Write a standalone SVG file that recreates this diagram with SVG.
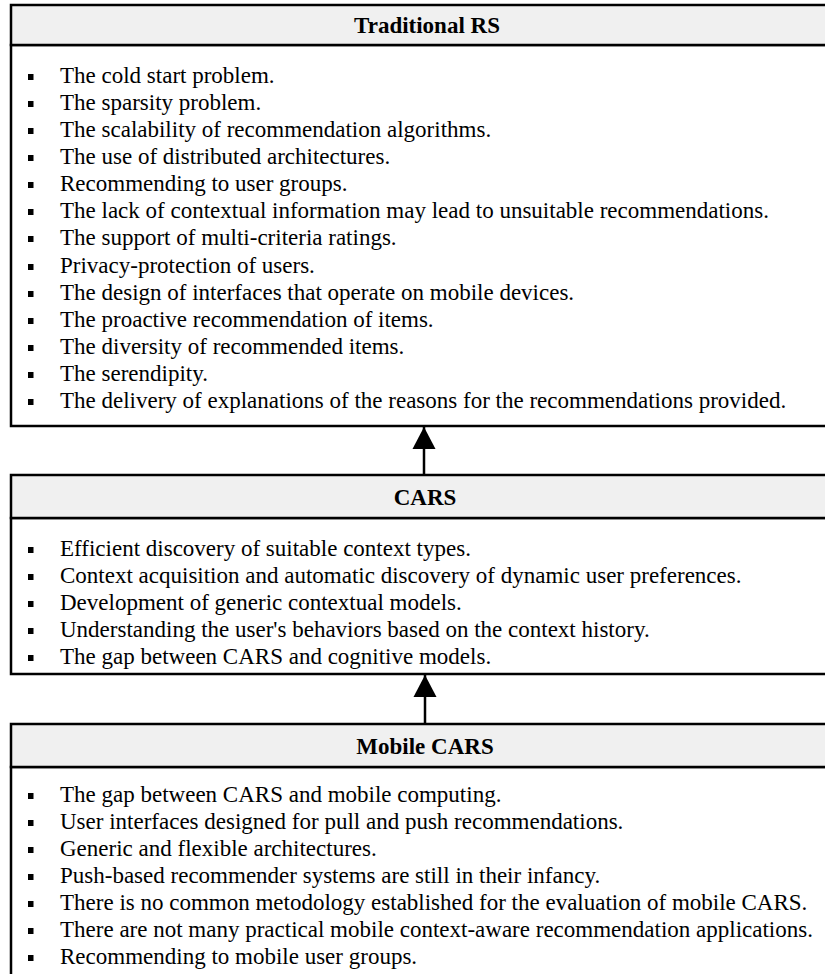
<svg xmlns="http://www.w3.org/2000/svg" xmlns:xlink="http://www.w3.org/1999/xlink" width="825" height="974" viewBox="0 0 825 974">
  <style>
    .frame { fill: #ffffff; stroke: #000000; stroke-width: 2.5; }
    .head { fill: #f0f0f0; stroke: #000000; stroke-width: 2.5; }
    .title { font-family: "Liberation Serif", "Times New Roman", serif; font-size: 23px; font-weight: bold; fill: #000000; text-anchor: middle; }
    .item { font-family: "Liberation Serif", "Times New Roman", serif; font-size: 23px; fill: #000000; }
    .link { stroke: #000000; stroke-width: 2.5; fill: none; }
  </style>
  <defs>
    <rect id="dot" x="0" y="0" width="5.5" height="6" fill="#000000"/>
    <marker id="head" markerUnits="userSpaceOnUse" markerWidth="24" markerHeight="24" refX="22" refY="12" orient="auto">
      <path d="M0,0.5 L22,12 L0,23.5 Z" fill="#000000"/>
    </marker>
  </defs>

  <!-- Traditional RS -->
  <g id="traditional-rs">
    <rect class="frame" x="11" y="45" width="900" height="381"/>
    <rect class="head" x="11" y="5" width="900" height="40"/>
    <text class="title" x="427" y="33">Traditional RS</text>
    <g>
      <use xlink:href="#dot" x="28" y="74"/>
      <use xlink:href="#dot" x="28" y="101"/>
      <use xlink:href="#dot" x="28" y="128"/>
      <use xlink:href="#dot" x="28" y="155"/>
      <use xlink:href="#dot" x="28" y="182"/>
      <use xlink:href="#dot" x="28" y="209"/>
      <use xlink:href="#dot" x="28" y="236"/>
      <use xlink:href="#dot" x="28" y="264"/>
      <use xlink:href="#dot" x="28" y="291"/>
      <use xlink:href="#dot" x="28" y="318"/>
      <use xlink:href="#dot" x="28" y="345"/>
      <use xlink:href="#dot" x="28" y="372"/>
      <use xlink:href="#dot" x="28" y="399"/>
    </g>
    <text class="item" x="60" y="83">The cold start problem.</text>
    <text class="item" x="60" y="110">The sparsity problem.</text>
    <text class="item" x="60" y="137">The scalability of recommendation algorithms.</text>
    <text class="item" x="60" y="164">The use of distributed architectures.</text>
    <text class="item" x="60" y="191">Recommending to user groups.</text>
    <text class="item" x="60" y="218">The lack of contextual information may lead to unsuitable recommendations.</text>
    <text class="item" x="60" y="245">The support of multi-criteria ratings.</text>
    <text class="item" x="60" y="273">Privacy-protection of users.</text>
    <text class="item" x="60" y="300">The design of interfaces that operate on mobile devices.</text>
    <text class="item" x="60" y="327">The proactive recommendation of items.</text>
    <text class="item" x="60" y="354">The diversity of recommended items.</text>
    <text class="item" x="60" y="381">The serendipity.</text>
    <text class="item" x="60" y="408">The delivery of explanations of the reasons for the recommendations provided.</text>
  </g>

  <!-- CARS -->
  <g id="cars">
    <rect class="frame" x="11" y="518" width="900" height="156"/>
    <rect class="head" x="11" y="475" width="900" height="43"/>
    <text class="title" x="425" y="505">CARS</text>
    <g>
      <use xlink:href="#dot" x="28" y="547"/>
      <use xlink:href="#dot" x="28" y="574"/>
      <use xlink:href="#dot" x="28" y="601"/>
      <use xlink:href="#dot" x="28" y="628"/>
      <use xlink:href="#dot" x="28" y="655"/>
    </g>
    <text class="item" x="60" y="556">Efficient discovery of suitable context types.</text>
    <text class="item" x="60" y="583">Context acquisition and automatic discovery of dynamic user preferences.</text>
    <text class="item" x="60" y="610">Development of generic contextual models.</text>
    <text class="item" x="60" y="637">Understanding the user's behaviors based on the context history.</text>
    <text class="item" x="60" y="664">The gap between CARS and cognitive models.</text>
  </g>

  <!-- Mobile CARS -->
  <g id="mobile-cars">
    <rect class="frame" x="11" y="767" width="900" height="260"/>
    <rect class="head" x="11" y="724" width="900" height="43"/>
    <text class="title" x="425" y="754">Mobile CARS</text>
    <g>
      <use xlink:href="#dot" x="28" y="793"/>
      <use xlink:href="#dot" x="28" y="820"/>
      <use xlink:href="#dot" x="28" y="847"/>
      <use xlink:href="#dot" x="28" y="874"/>
      <use xlink:href="#dot" x="28" y="901"/>
      <use xlink:href="#dot" x="28" y="928"/>
      <use xlink:href="#dot" x="28" y="955"/>
    </g>
    <text class="item" x="60" y="802">The gap between CARS and mobile computing.</text>
    <text class="item" x="60" y="829">User interfaces designed for pull and push recommendations.</text>
    <text class="item" x="60" y="856">Generic and flexible architectures.</text>
    <text class="item" x="60" y="883">Push-based recommender systems are still in their infancy.</text>
    <text class="item" x="60" y="910">There is no common metodology established for the evaluation of mobile CARS.</text>
    <text class="item" x="60" y="937">There are not many practical mobile context-aware recommendation applications.</text>
    <text class="item" x="60" y="964">Recommending to mobile user groups.</text>
  </g>

  <!-- connectors -->
  <g id="connectors">
    <line class="link" x1="424" y1="475" x2="424" y2="427" marker-end="url(#head)"/>
    <line class="link" x1="425" y1="724" x2="425" y2="675" marker-end="url(#head)"/>
  </g>
</svg>
